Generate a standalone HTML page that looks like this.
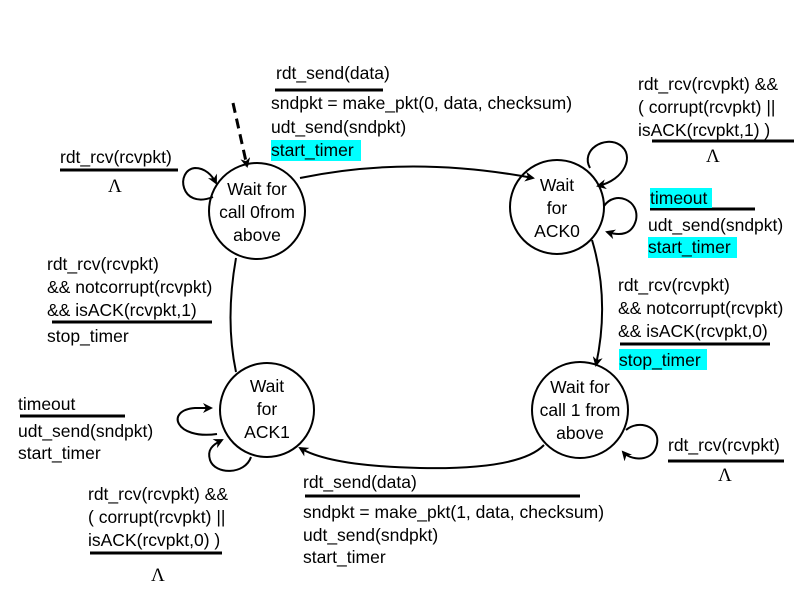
<!DOCTYPE html>
<html><head><meta charset="utf-8"><style>
body{margin:0;background:#fff}
svg{display:block}
text{font-family:"Liberation Sans",sans-serif;font-size:17.5px;fill:#000}
.l{font-family:"Liberation Serif",serif;font-size:19px}
</style></head><body>
<svg width="809" height="590" viewBox="0 0 809 590" xmlns="http://www.w3.org/2000/svg">
<defs><marker id="a" markerWidth="10" markerHeight="10" refX="8" refY="5" orient="auto" markerUnits="userSpaceOnUse"><path d="M0,0 L10,5 L0,10 L3,5 z" fill="#000"/></marker></defs>
<g fill="none" stroke="#000" stroke-width="2">
<circle cx="257" cy="211" r="48"/>
<circle cx="557" cy="207" r="47"/>
<circle cx="267" cy="410" r="47"/>
<circle cx="580" cy="410" r="48"/>
<line x1="233" y1="103" x2="247" y2="166" stroke-dasharray="10,6" stroke-width="3" marker-end="url(#a)"/>
<path d="M300,178 Q410,155 533,178" marker-end="url(#a)"/>
<path d="M592,240 Q610,300 596,365" marker-end="url(#a)"/>
<path d="M544,445 Q520,470 420,468 Q330,466 300,448" marker-end="url(#a)"/>
<path d="M236,258 Q225,320 236,372"/>
<path d="M213,197 C180,210 175,170 195,168 C205,168 212,175 216,183" marker-end="url(#a)"/>
<path d="M590,168 C580,150 605,135 620,145 C635,155 625,180 598,186" marker-end="url(#a)"/>
<path d="M604,206 C615,190 640,200 636,220 C632,235 620,236 607,232" marker-end="url(#a)"/>
<path d="M217,434 C175,440 165,410 195,408 L211,408" marker-end="url(#a)"/>
<path d="M251,457 C245,475 215,475 210,460 C207,450 212,445 222,440" marker-end="url(#a)"/>
<path d="M626,430 C640,418 665,428 655,450 C648,462 630,460 623,452" marker-end="url(#a)"/>
</g>
<g stroke="#000" stroke-width="3">
<line x1="275" y1="90" x2="383" y2="90"/>
<line x1="60" y1="170" x2="178" y2="170"/>
<line x1="52" y1="322" x2="212" y2="322"/>
<line x1="652" y1="141" x2="794" y2="141"/>
<line x1="650" y1="209" x2="755" y2="209"/>
<line x1="620" y1="344" x2="770" y2="344"/>
<line x1="668" y1="461" x2="784" y2="461"/>
<line x1="20" y1="416" x2="125" y2="416"/>
<line x1="90" y1="553" x2="222" y2="553"/>
<line x1="305" y1="496" x2="580" y2="496"/>
</g>
<g fill="#00ffff">
<rect x="271" y="140" width="90" height="21"/>
<rect x="650" y="188" width="62" height="20"/>
<rect x="648" y="237" width="89" height="21"/>
<rect x="619" y="349" width="88" height="21"/>
</g>
<g text-anchor="middle">
<text x="257" y="195">Wait for</text><text x="257" y="218">call 0from</text><text x="257" y="241">above</text>
<text x="557" y="191">Wait</text><text x="557" y="214">for</text><text x="557" y="237">ACK0</text>
<text x="267" y="392">Wait</text><text x="267" y="415">for</text><text x="267" y="438">ACK1</text>
<text x="580" y="393">Wait for</text><text x="580" y="416">call 1 from</text><text x="580" y="439">above</text>
</g>
<text x="276" y="79">rdt_send(data)</text>
<text x="271" y="109">sndpkt = make_pkt(0, data, checksum)</text>
<text x="271" y="133">udt_send(sndpkt)</text>
<text x="271" y="156">start_timer</text>
<text x="60" y="163">rdt_rcv(rcvpkt)</text>
<text class="l" x="108" y="192">Λ</text>
<text x="47" y="270">rdt_rcv(rcvpkt)</text>
<text x="47" y="293">&amp;&amp; notcorrupt(rcvpkt)</text>
<text x="47" y="316">&amp;&amp; isACK(rcvpkt,1)</text>
<text x="47" y="342">stop_timer</text>
<text x="638" y="90">rdt_rcv(rcvpkt) &amp;&amp;</text>
<text x="638" y="113">( corrupt(rcvpkt) ||</text>
<text x="638" y="136">isACK(rcvpkt,1) )</text>
<text class="l" x="706" y="162">Λ</text>
<text x="650" y="204">timeout</text>
<text x="648" y="231">udt_send(sndpkt)</text>
<text x="648" y="253">start_timer</text>
<text x="618" y="291">rdt_rcv(rcvpkt)</text>
<text x="618" y="314">&amp;&amp; notcorrupt(rcvpkt)</text>
<text x="618" y="337">&amp;&amp; isACK(rcvpkt,0)</text>
<text x="619" y="366">stop_timer</text>
<text x="668" y="451">rdt_rcv(rcvpkt)</text>
<text class="l" x="718" y="481">Λ</text>
<text x="18" y="410">timeout</text>
<text x="18" y="437">udt_send(sndpkt)</text>
<text x="18" y="459">start_timer</text>
<text x="88" y="500">rdt_rcv(rcvpkt) &amp;&amp;</text>
<text x="88" y="523">( corrupt(rcvpkt) ||</text>
<text x="88" y="546">isACK(rcvpkt,0) )</text>
<text class="l" x="151" y="581">Λ</text>
<text x="303" y="488">rdt_send(data)</text>
<text x="303" y="518">sndpkt = make_pkt(1, data, checksum)</text>
<text x="303" y="541">udt_send(sndpkt)</text>
<text x="303" y="563">start_timer</text>
</svg>
</body></html>
